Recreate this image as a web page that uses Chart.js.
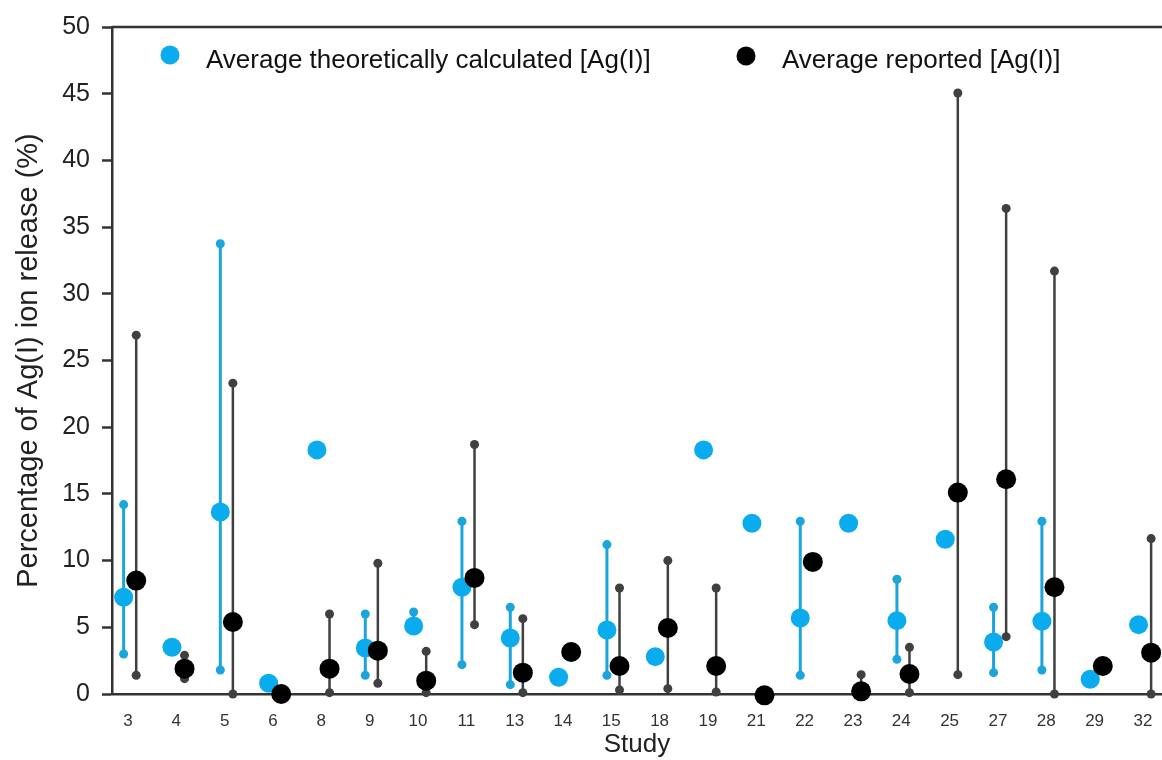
<!DOCTYPE html>
<html>
<head>
<meta charset="utf-8">
<script src="https://cdn.jsdelivr.net/npm/chart.js@4.4.1/dist/chart.umd.min.js"></script>
<style>
  html, body { margin: 0; padding: 0; background: #fff; }
</style>
</head>
<body>
<canvas id="chart" width="1162" height="760"></canvas>
<script>
// Study numbers on the x axis
const studies = ['3', '4', '5', '6', '8', '9', '10', '11', '13', '14', '15', '18', '19', '21', '22', '23', '24', '25', '27', '28', '29', '32'];

// Average theoretically calculated [Ag(I)] (%) with min / max
const calcMean = [7.25, 3.5, 13.65, 0.8, 18.3, 3.45, 5.1, 8.0, 4.2, 1.25, 4.8, 2.8, 18.3, 12.8, 5.7, 12.8, 5.5, 11.6, 3.9, 5.45, 1.1, 5.2];
const calcMin = [3.0, null, 1.8, null, null, 1.4, 5.1, 2.2, 0.7, null, 1.4, null, null, null, 1.4, null, 2.6, null, 1.6, 1.8, null, null];
const calcMax = [14.2, null, 33.75, null, null, 6.0, 6.15, 12.95, 6.5, null, 11.2, null, null, null, 12.95, null, 8.6, null, 6.5, 12.95, null, null];

// Average reported [Ag(I)] (%) with min / max
const repMean = [8.5, 1.9, 5.4, 0.0, 1.9, 3.25, 1.0, 8.7, 1.6, 3.15, 2.1, 4.95, 2.1, -0.1, 9.9, 0.2, 1.5, 15.1, 16.1, 8.0, 2.1, 3.1];
const repMin = [1.4, 1.15, 0, null, 0.1, 0.8, 0.1, 5.2, 0.1, null, 0.3, 0.4, 0.15, null, null, 0, 0.1, 1.45, 4.3, 0, null, 0];
const repMax = [26.9, 2.9, 23.3, null, 6.0, 9.8, 3.2, 18.7, 5.65, null, 7.95, 10.0, 7.95, null, null, 1.45, 3.5, 45.05, 36.4, 31.7, null, 11.65];

const yTicks = [0, 5, 10, 15, 20, 25, 30, 35, 40, 45, 50];

const CALC_SHIFT = -0.09;
const REP_SHIFT = 0.17;
const BLUE = '#0aaced';
const BLUE_LINE = '#1aa5dc';
const GREY = '#404040';

function meanPoints(means, shift) {
    return means.map((v, i) => ({x: i + shift, y: v}));
}

// pairs of (min, max) joined by a line, broken by a null point
function rangePoints(mins, maxs, shift) {
    const pts = [];
    mins.forEach((lo, i) => {
        if (lo === null || maxs[i] === null) return;
        pts.push({x: i + shift, y: lo}, {x: i + shift, y: maxs[i]}, {x: i + shift, y: null});
    });
    return pts;
}

const frameAndLegend = {
    id: 'frameAndLegend',
    beforeDatasetsDraw(chart) {
        const {ctx, chartArea} = chart;
        ctx.save();
        ctx.strokeStyle = '#333';
        ctx.lineWidth = 2.5;
        ctx.beginPath();
        ctx.moveTo(chartArea.left, chartArea.top);
        ctx.lineTo(chartArea.right, chartArea.top);
        ctx.stroke();
        ctx.restore();
    },
    afterDraw(chart) {
        const ctx = chart.ctx;
        const items = [
            {text: chart.data.datasets[1].label, color: BLUE, dot: [170, 55], tx: 206},
            {text: chart.data.datasets[0].label, color: '#000', dot: [746, 56], tx: 782}
        ];
        ctx.save();
        ctx.font = '26px "Liberation Sans", Arial, sans-serif';
        ctx.textBaseline = 'middle';
        items.forEach(it => {
            ctx.beginPath();
            ctx.fillStyle = it.color;
            ctx.arc(it.dot[0], it.dot[1], 9.5, 0, Math.PI * 2);
            ctx.fill();
            ctx.fillStyle = '#111';
            ctx.fillText(it.text, it.tx, 61);
        });
        ctx.restore();
    }
};

new Chart(document.getElementById('chart'), {
    type: 'scatter',
    data: {
        datasets: [
            {
                label: 'Average reported [Ag(I)]',
                data: meanPoints(repMean, REP_SHIFT),
                backgroundColor: '#000',
                borderWidth: 0,
                pointRadius: 10,
                clip: false
            },
            {
                label: 'Average theoretically calculated [Ag(I)]',
                data: meanPoints(calcMean, CALC_SHIFT),
                backgroundColor: BLUE,
                borderWidth: 0,
                pointRadius: 9.5,
                clip: false
            },
            {
                type: 'line',
                label: 'reported range',
                data: rangePoints(repMin, repMax, REP_SHIFT),
                borderColor: GREY,
                borderWidth: 2.5,
                pointRadius: 4.5,
                pointBorderWidth: 0,
                pointBackgroundColor: GREY,
                spanGaps: false,
                fill: false,
                clip: false
            },
            {
                type: 'line',
                label: 'calculated range',
                data: rangePoints(calcMin, calcMax, CALC_SHIFT),
                borderColor: BLUE_LINE,
                borderWidth: 3,
                pointRadius: 4.5,
                pointBorderWidth: 0,
                pointBackgroundColor: BLUE_LINE,
                spanGaps: false,
                fill: false,
                clip: false
            }
        ]
    },
    options: {
        responsive: false,
        animation: false,
        devicePixelRatio: 1,
        events: [],
        layout: { autoPadding: false, padding: {top: 27, left: 0, right: 0, bottom: 0} },
        plugins: {
            legend: { display: false },
            tooltip: { enabled: false }
        },
        scales: {
            x: {
                type: 'linear',
                min: -0.331,
                max: 21.395,
                offset: false,
                afterBuildTicks: s => { s.ticks = studies.map((_, i) => ({value: i})); },
                afterFit: s => { s.height = 66; s.paddingLeft = 0; s.paddingRight = 0; },
                grid: { display: true, drawOnChartArea: false, drawTicks: false },
                border: { display: true, color: '#333', width: 2.5 },
                ticks: {
                    autoSkip: false,
                    maxRotation: 0,
                    padding: 17,
                    color: '#333',
                    font: { family: '"Liberation Sans", Arial, sans-serif', size: 17 },
                    callback: (v, i) => studies[i]
                },
                title: {
                    display: true,
                    text: 'Study',
                    color: '#222',
                    font: { family: '"Liberation Sans", Arial, sans-serif', size: 26 },
                    padding: {top: 0, bottom: 0}
                }
            },
            y: {
                min: 0,
                max: 50,
                afterBuildTicks: s => { s.ticks = yTicks.map(v => ({value: v})); },
                afterFit: s => { s.width = 112; },
                grid: { drawOnChartArea: false, tickLength: 10, tickColor: '#333', tickWidth: 2.5 },
                border: { display: true, color: '#333', width: 2.5 },
                ticks: {
                    padding: 12,
                    color: '#222',
                    font: { family: '"Liberation Sans", Arial, sans-serif', size: 25 }
                },
                title: {
                    display: true,
                    text: 'Percentage of Ag(I) ion release (%)',
                    color: '#222',
                    font: { family: '"Liberation Sans", Arial, sans-serif', size: 29 },
                    padding: {top: 12, bottom: 0}
                }
            }
        }
    },
    plugins: [frameAndLegend]
});
</script>
</body>
</html>
